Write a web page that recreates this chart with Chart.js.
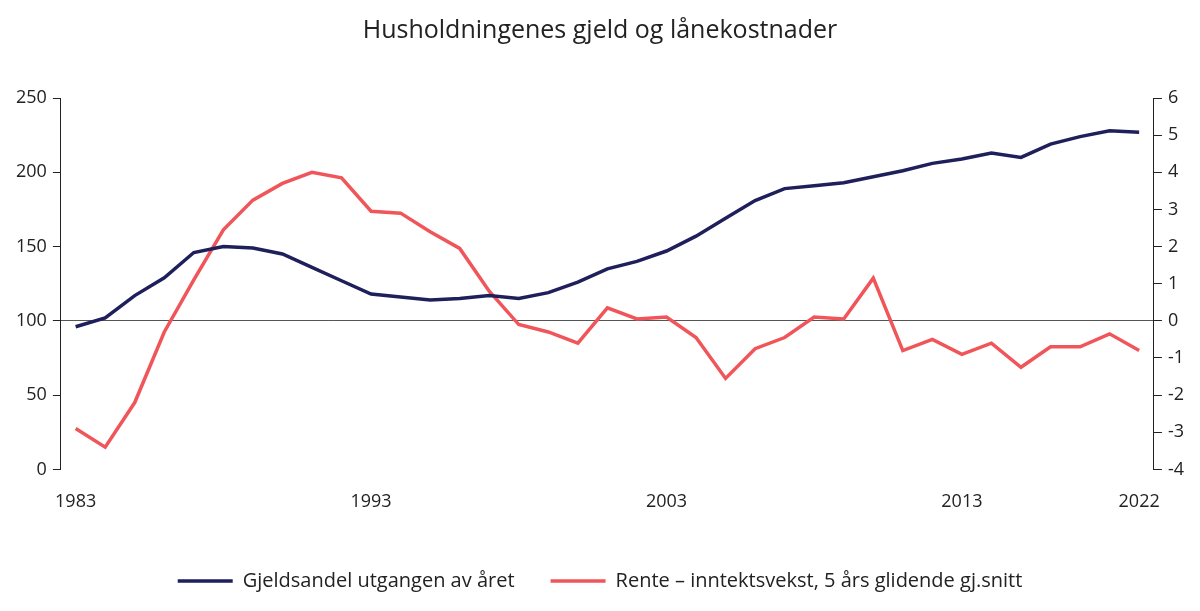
<!DOCTYPE html>
<html>
<head>
<meta charset="utf-8">
<script src="https://cdn.jsdelivr.net/npm/chart.js@4/dist/chart.umd.min.js"></script>
<style>
  body { margin: 0; background: #fff; }
  #wrap { width: 1200px; height: 611px; }
</style>
</head>
<body>
<div id="wrap"><canvas id="debtChart"></canvas></div>
<script>
// Values
const years = [];
for (let i = 0; i < 36; i++) years.push(String(1983 + i));
years.push('2022');

const debtShare = [96, 102, 117, 129, 146, 150, 149, 145, 136, 127, 118, 116, 114, 115, 117, 115, 119, 126, 135, 140,
  147, 157, 169, 181, 189, 191, 193, 197, 201, 206, 209, 213, 210, 219, 224, 228, 227];

const rateMinusIncome = [-2.9, -3.4, -2.2, -0.3, 1.1, 2.45, 3.25, 3.7, 4.0, 3.85, 2.95, 2.9, 2.4, 1.95, 0.8, -0.1,
  -0.3, -0.6, 0.35, 0.05, 0.1, -0.45, -1.55, -0.75, -0.45, 0.1, 0.05, 1.15, -0.8, -0.5, -0.9, -0.6, -1.25, -0.7,
  -0.7, -0.35, -0.8];

Chart.defaults.font.family = '"Open Sans", "Noto Sans", sans-serif';
Chart.defaults.color = '#222';

const ctx = document.getElementById('debtChart').getContext('2d');
const debtChart = new Chart(ctx, {
    type: 'line',
    data: {
        labels: years,
        datasets: [{
            label: 'Gjeldsandel utgangen av året',
            data: debtShare,
            borderColor: '#1f1f5c',
            backgroundColor: '#1f1f5c',
            borderWidth: 3.5,
            pointRadius: 0,
            yAxisID: 'y'
        }, {
            label: 'Rente – inntektsvekst, 5 års glidende gj.snitt',
            data: rateMinusIncome,
            borderColor: '#f0555a',
            backgroundColor: '#f0555a',
            borderWidth: 3.5,
            pointRadius: 0,
            yAxisID: 'y2'
        }]
    },
    options: {
        responsive: true,
        maintainAspectRatio: false,
        animation: false,
        layout: { padding: { left: 10, right: 10, top: 12, bottom: 10 } },
        plugins: {
            title: {
                display: true,
                text: 'Husholdningenes gjeld og lånekostnader',
                font: { size: 25, weight: 'normal' },
                padding: { top: 4, bottom: 52 }
            },
            legend: {
                position: 'bottom',
                labels: {
                    boxWidth: 55, boxHeight: 0, font: { size: 20 }, padding: 36,
                    generateLabels(chart) {
                        return chart.data.datasets.map((d, i) => ({
                            text: d.label, strokeStyle: d.borderColor, fillStyle: d.borderColor,
                            lineWidth: 3.5, datasetIndex: i, fontColor: '#222'
                        }));
                    }
                }
            }
        },
        scales: {
            x: {
                offset: true,
                grid: { display: false, drawTicks: false },
                border: { display: false },
                ticks: {
                    autoSkip: false, maxRotation: 0, font: { size: 18 }, padding: 22,
                    callback(v, i) { return (i % 10 === 0 || i === years.length - 1) ? years[i] : ''; }
                }
            },
            y: {
                position: 'left',
                min: 0, max: 250,
                ticks: { stepSize: 50, font: { size: 18 }, padding: 6 },
                grid: { display: true, drawOnChartArea: false, tickLength: 8, color: '#222' },
                border: { color: '#222' }
            },
            y2: {
                position: 'right',
                min: -4, max: 6,
                ticks: { stepSize: 1, font: { size: 18 }, padding: 6 },
                grid: {
                    tickLength: 8,
                    color: (c) => c.tick && c.tick.value === 0 ? '#555' : 'rgba(0,0,0,0)',
                    tickColor: '#222'
                },
                border: { color: '#222' }
            }
        }
    }
});
</script>
</body>
</html>
